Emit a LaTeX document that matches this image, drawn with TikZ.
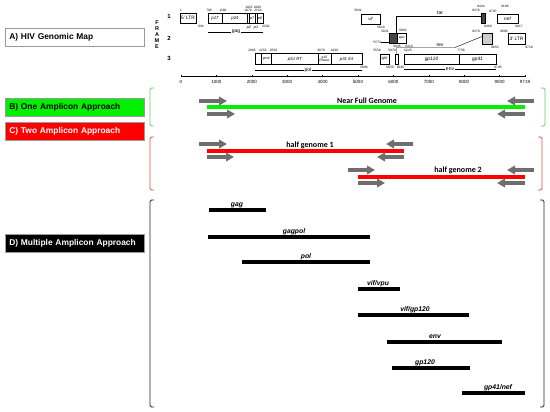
\documentclass[tikz,border=0pt]{standalone}
\usepackage{fontspec}
\setmainfont{Liberation Sans}
\newfontfamily\calib{Carlito}
\usetikzlibrary{arrows.meta}
\definecolor{agray}{RGB}{110,110,110}
\definecolor{brgreen}{RGB}{0,240,0}
\definecolor{brred}{RGB}{255,0,0}
\definecolor{bkgreen}{RGB}{100,210,100}
\definecolor{bkred}{RGB}{225,80,80}
\definecolor{darkbox}{RGB}{70,70,70}
\definecolor{lightbox}{RGB}{205,205,205}
\newcommand\fs[1]{\fontsize{#1}{#1}\selectfont}
\begin{document}
\begin{tikzpicture}[x=1pt,y=-1pt,
 catbox/.style={draw=gray!80, line width=0.6pt, minimum height=18pt, text width=131pt, inner xsep=4pt, inner ysep=0pt, anchor=west, align=left, font=\bfseries\fs{8.4}},
 num/.style={inner sep=0pt, font=\fs{3.2}},
 gene/.style={inner sep=0pt, font=\itshape\fs{4.3}},
 gname/.style={inner sep=0.7pt, fill=white, font=\fs{5}},
 frm/.style={inner sep=0pt, font=\bfseries\fs{6}},
 gbox/.style={line width=0.5pt},
 bracket/.style={line width=0.9pt, rounded corners=1.5pt},
 fwd/.style={draw=agray, line width=3.2pt, -{Triangle[length=8pt,width=8.5pt]}},
 bar/.style={line width=4.5pt},
 dbar/.style={line width=4pt, black},
 amp/.style={inner sep=0pt, font=\calib\bfseries\fs{8}},
 dlab/.style={inner sep=0pt, font=\bfseries\itshape\fs{6.8}, anchor=base},
 axl/.style={inner sep=0pt, font=\fs{4.5}},
]
\useasboundingbox (0,0) rectangle (550,412);

% ---------- category boxes
\node[catbox, fill=white] (A) at (5,37) {A) HIV Genomic Map};
\node[catbox, fill=brgreen] (B) at (5,107) {B) One Amplicon Approach};
\node[catbox, fill=brred, text=white] (C) at (5,131) {C) Two Amplicon Approach};
\node[catbox, fill=black, text=white] (D) at (5,243) {D) Multiple Amplicon Approach};

% ---------- frame labels
\node[frm, align=center, font=\bfseries\fontsize{5.5}{6}\selectfont] (frame) at (157,35) {F\\R\\A\\M\\E};
\node[frm] (f1) at (169,16) {1};
\node[frm] (f2) at (169,38) {2};
\node[frm] (f3) at (169,58) {3};

% ---------- frame 1
\draw[gbox] (180,13.5) rectangle (196,23);
\node[inner sep=0pt, font=\fs{4.8}] (ltr5) at (188,18.3) {5' LTR};
\node[num] (n1) at (181,10.5) {1};
\node[num] (n634) at (201,26) {634};

\draw[gbox] (208,13.5) rectangle (263,23);
\draw[gbox] (222,13.5) -- (222,23) (247.3,13.5) -- (247.3,23) (249.2,13.5) -- (249.2,23)
  (255,13.5) -- (255,23) (256.8,13.5) -- (256.8,23);
\node[gene] (p17) at (215,18.3) {p17};
\node[gene] (p24) at (235,18.3) {p24};
\node[gene, font=\itshape\fs{3.8}] (p7) at (252.1,18.3) {p7};
\node[gene, font=\itshape\fs{3.8}] (p6) at (260,18.3) {p6};
\node[gene, font=\itshape\fs{3.8}] (p2) at (249,27.5) {p2};
\node[gene, font=\itshape\fs{3.8}] (p1) at (256,27.5) {p1};
\node[num] (n790) at (209,10.5) {790};
\node[num] (n1186) at (223,10.5) {1186};
\node[num] (n1879) at (248,10.5) {1879};
\node[num] (n1921) at (249,7) {1921};
\node[num] (n2086) at (257.5,7) {2086};
\node[num] (n2134) at (258,10.5) {2134};
\node[num] (n2292) at (266,26) {2292};
\draw[line width=0.4pt] (208,32) -- (263,32);
\node[gname] (gag) at (236,32) {gag};

\draw[gbox] (361,14.5) rectangle (380,24);
\node[gene] (vif) at (370.5,19.3) {vif};
\node[num] (n5041) at (358,10.5) {5041};
\node[num] (n5619) at (381,27.5) {5619};

\draw[gbox, fill=darkbox] (481,13) rectangle (485,23.5);
\node[num] (n8424) at (481,6) {8424};
\node[num] (n8379a) at (476,10) {8379};
\node[num] (n8469) at (488,26.5) {8469};

\draw[gbox] (497,14) rectangle (518,23.5);
\node[gene, font=\itshape\fs{4.8}] (nef) at (507.5,18.8) {nef};
\node[num] (n8797) at (493,11) {8797};
\node[num] (n9168) at (505,6) {9168};
\node[num] (n9417) at (519,26.5) {9417};

% tat
\draw[line width=0.4pt] (396,33) -- (396,16) -- (481,16);
\node[inner sep=0.5pt, font=\fs{5}, anchor=south] (tat) at (440,15.5) {tat};

% ---------- frame 2
\draw[gbox, fill=darkbox] (389,33) rectangle (397.5,43);
\draw[gbox] (397.5,33) rectangle (406,43);
\node[gene, font=\itshape\fs{3.5}] (vpu) at (401.8,38) {vpu};
\node[num] (n5831) at (385,31) {5831};
\node[num] (n6062) at (403,30) {6062};
\node[num] (n6045a) at (397,46) {6045};
\node[num] (n6310) at (409,46) {6310};
\node[num] (n5772) at (377,42) {*5772};
\draw[line width=0.3pt] (n5772.east) -- (389,42);

\draw[gbox, fill=lightbox] (482,33) rectangle (492,44);
\node[num] (n8379b) at (476,31) {8379};
\node[num] (n8653) at (495,47) {8653};

\draw[gbox] (508,33) rectangle (525,44);
\node[inner sep=0pt, font=\fs{4.8}] (ltr3) at (516.5,38.5) {3' LTR};
\node[num] (n9086) at (504,31) {9086};
\node[num] (n9719a) at (529,47) {9719};

% rev
\draw[line width=0.4pt] (396.5,54) -- (396.5,47.5) -- (455,47.5) -- (482,36.5);
\node[inner sep=0.5pt, font=\fs{5}, anchor=south] (rev) at (440,47.3) {rev};

% ---------- frame 3
\draw[gbox] (255,53.5) rectangle (362,64.5);
\draw[gbox] (261.5,53.5) -- (261.5,64.5) (271.5,53.5) -- (271.5,64.5) (318,53.5) -- (318,64.5) (331,53.5) -- (331,64.5);
\node[gene, font=\itshape\fs{3.8}] (prot) at (266.5,59) {prot};
\node[gene] (rt) at (295,59) {p51 RT};
\node[gene, font=\itshape\fontsize{3.3}{3.6}\selectfont, align=center] (rnase) at (324.5,59) {p15\\RNase};
\node[gene] (int) at (346.5,59) {p31 Int};
\node[num] (n2085) at (252,50) {2085};
\node[num] (n2253) at (263,50) {2253};
\node[num] (n2550) at (273.5,50) {2550};
\node[num] (n3870) at (321,50) {3870};
\node[num] (n4230) at (334.5,50) {4230};
\node[num] (n5096) at (364,67.5) {5096};
\draw[line width=0.4pt] (255,70) -- (362,70);
\node[gname] (pol) at (308,70) {pol};

\draw[gbox] (380,54) rectangle (389,64);
\node[gene] (vpr) at (384.5,59) {vpr};
\node[num] (n5559) at (377,50.5) {5559};
\node[num] (n5850) at (390,67.5) {5850};
\draw[gbox] (395,54) rectangle (398,64);
\node[num] (n5970) at (392,50.5) {5970};
\node[num] (n6045b) at (400.5,67.5) {6045};

\draw[gbox] (404,54) rectangle (496,64);
\draw[gbox] (459,54) -- (459,64);
\node[gene, font=\itshape\fs{4.8}] (gp120) at (431.5,59) {gp120};
\node[gene, font=\itshape\fs{4.8}] (gp41) at (477.5,59) {gp41};
\node[num] (n6225) at (408,50.5) {6225};
\node[num] (n7758) at (461,50.5) {7758};
\node[num] (n8795) at (498,67.5) {8795};
\draw[line width=0.4pt] (404,69.5) -- (496,69.5);
\node[gname] (env) at (450,69.5) {env};

% ---------- axis
\draw[line width=0.4pt] (181,76) -- (525,76);
\foreach \k in {0,...,9} {
  \pgfmathsetmacro\xx{181+35.4*\k}
  \draw[line width=0.4pt] (\xx,74.8) -- (\xx,77.2);
  \node[axl] (ax\k) at (\xx,82) {\the\numexpr\k*1000\relax};
}
\draw[line width=0.4pt] (525,74.8) -- (525,77.2);
\node[axl] (ax10) at (525,82) {9719};

% ---------- brackets
\draw[bracket, bkgreen] (154,88) -- (150,88) -- (150,126) -- (154,126);
\draw[bracket, bkgreen] (541,88) -- (545,88) -- (545,126) -- (541,126);
\draw[bracket, bkred] (154,137) -- (150,137) -- (150,190) -- (154,190);
\draw[bracket, bkred] (538,137) -- (542,137) -- (542,190) -- (538,190);
\draw[bracket, black!85] (154,200) -- (150,200) -- (150,407) -- (154,407);
\draw[bracket, black!85] (540,200) -- (544,200) -- (544,407) -- (540,407);

% ---------- B
\draw[bar, brgreen] (207,107) -- (525,107);
\node[amp] (nfg) at (367,101) {Near Full Genome};
\draw[fwd] (199,101) -- (227,101);
\draw[fwd] (207,114) -- (235,114);
\draw[fwd] (534,101) -- (507,101);
\draw[fwd] (525,114) -- (497,114);

% ---------- C
\draw[bar, brred] (207,151) -- (404,151);
\node[amp] (hg1) at (310,145) {half genome 1};
\draw[fwd] (199,144) -- (227,144);
\draw[fwd] (207,157) -- (234,157);
\draw[fwd] (413,144) -- (386,144);
\draw[fwd] (404,157) -- (377,157);

\draw[bar, brred] (358,177) -- (525,177);
\node[amp] (hg2) at (458,170) {half genome 2};
\draw[fwd] (348,170) -- (375,170);
\draw[fwd] (358,183) -- (385,183);
\draw[fwd] (534,170) -- (507,170);
\draw[fwd] (525,183) -- (497,183);

% ---------- D
\draw[dbar] (209,210) -- (266,210);
\node[dlab] (dgag) at (237,206.5) {gag};
\draw[dbar] (208,237) -- (370,237);
\node[dlab] (dgagpol) at (294,233.5) {gagpol};
\draw[dbar] (242,262) -- (370,262);
\node[dlab] (dpol) at (306,258.5) {pol};
\draw[dbar] (358,289) -- (400,289);
\node[dlab] (dvv) at (378,285.5) {vif/vpu};
\draw[dbar] (358,315) -- (469,315);
\node[dlab] (dvg) at (415,311.5) {vif/gp120};
\draw[dbar] (387,342) -- (502,342);
\node[dlab] (denv) at (435,338.5) {env};
\draw[dbar] (392,368) -- (470,368);
\node[dlab] (dgp) at (425,364.5) {gp120};
\draw[dbar] (462,393) -- (525,393);
\node[dlab] (dgn) at (498,389.5) {gp41/nef};
\end{tikzpicture}
\end{document}
